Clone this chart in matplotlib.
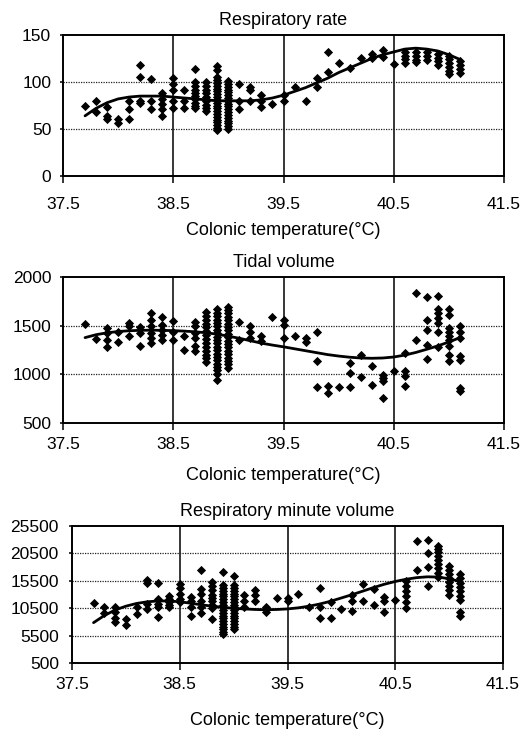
import matplotlib
matplotlib.use("Agg")
import matplotlib.pyplot as plt
import numpy as np

plt.rcParams['font.family'] = ['Liberation Sans', 'DejaVu Sans']

# ---------------- data ----------------
x_ticks = [37.5, 38.5, 39.5, 40.5, 41.5]
x_tick_labels = ["37.5", "38.5", "39.5", "40.5", "41.5"]
x_label = "Colonic temperature(°C)"

# Respiratory rate: temperature -> observed values
rr_title = "Respiratory rate"
rr_yticks = [0, 50, 100, 150]
rr_points = {
    37.7: [75],
    37.8: [80, 68],
    37.9: [73, 64, 61],
    38.0: [61, 56],
    38.1: [80, 71, 61],
    38.2: [118, 105, 80, 78],
    38.3: [103, 80, 71],
    38.4: [88, 82, 77, 71, 64],
    38.5: [104, 98, 91, 80, 72],
    38.6: [91, 80, 72],
    38.7: [114, 100, 96, 92, 88, 85, 82, 78, 75, 72],
    38.8: [100, 96, 92, 88, 84, 80, 76, 72, 69],
    38.9: [117, 113, 105, 102, 99, 96, 93, 90, 87, 84, 81, 78, 75, 72, 69, 66, 63, 60, 57, 54, 51, 49],
    39.0: [101, 98, 95, 92, 89, 86, 83, 80, 77, 74, 71, 68, 65, 62, 59, 56, 53, 50],
    39.1: [98, 80, 71],
    39.2: [95, 91, 80],
    39.3: [86, 80, 73],
    39.4: [77],
    39.5: [86, 80],
    39.6: [95],
    39.7: [80],
    39.8: [104, 95],
    39.9: [132, 111],
    40.0: [120],
    40.1: [115],
    40.2: [125],
    40.3: [130, 125],
    40.4: [134, 127],
    40.5: [119],
    40.6: [132, 128, 124, 120],
    40.7: [132, 128, 123, 121],
    40.8: [132, 128, 123],
    40.9: [130, 126, 122, 118],
    41.0: [128, 124, 120, 116, 112, 108],
    41.1: [122, 118, 114, 110],
}
rr_trend_t = [37.7, 37.8, 37.9, 38.0, 38.1, 38.2, 38.3, 38.4, 38.5, 38.6, 38.7, 38.8,
              38.9, 39.0, 39.1, 39.2, 39.3, 39.4, 39.5, 39.6, 39.7, 39.8, 39.9, 40.0,
              40.1, 40.2, 40.3, 40.4, 40.5, 40.6, 40.7, 40.8, 40.9, 41.0, 41.1]
rr_trend_v = [64, 72, 78, 82, 84, 85, 85, 85, 84, 83, 82, 81,
              80, 80, 80, 80, 81, 83, 86, 90, 94, 99, 104, 110,
              115, 120, 125, 129, 132, 135, 136, 135, 133, 129, 124]

# Tidal volume
tv_title = "Tidal volume"
tv_yticks = [500, 1000, 1500, 2000]
tv_points = {
    37.7: [1517],
    37.8: [1360],
    37.9: [1473, 1421, 1353, 1277],
    38.0: [1438, 1325],
    38.1: [1530, 1490, 1387],
    38.2: [1487, 1420, 1290],
    38.3: [1627, 1558, 1490, 1421, 1370, 1318],
    38.4: [1585, 1507, 1455, 1404, 1353],
    38.5: [1551, 1438, 1353],
    38.6: [1387, 1243],
    38.7: [1541, 1490, 1421, 1370, 1284, 1233],
    38.8: [1640, 1600, 1560, 1520, 1480, 1440, 1400, 1360, 1320, 1280, 1240, 1200, 1160, 1120],
    38.9: [1665, 1630, 1595, 1560, 1525, 1490, 1455, 1420, 1385, 1350, 1315, 1280, 1245,
           1210, 1175, 1140, 1105, 1070, 1045, 1000, 942],
    39.0: [1695, 1660, 1625, 1590, 1555, 1520, 1485, 1450, 1415, 1380, 1345, 1310, 1275,
           1240, 1205, 1170, 1135, 1100, 1065],
    39.1: [1541, 1353],
    39.2: [1490, 1438, 1370],
    39.3: [1387, 1336],
    39.4: [1592],
    39.5: [1558, 1507, 1370],
    39.6: [1394],
    39.7: [1370, 1325],
    39.8: [1428, 1130, 866],
    39.9: [880, 805],
    40.0: [866],
    40.1: [1113, 1010, 866],
    40.2: [1199, 969],
    40.3: [1086, 890],
    40.4: [993, 959, 925, 753],
    40.5: [1027],
    40.6: [1220, 1027, 976, 880],
    40.7: [1832, 1353],
    40.8: [1798, 1558, 1455, 1301, 1154],
    40.9: [1808, 1668, 1627, 1575, 1524, 1438, 1277],
    41.0: [1668, 1610, 1473, 1438, 1394, 1353, 1284, 1199, 1130],
    41.1: [1490, 1438, 1370, 1182, 1147, 856, 822],
}
tv_trend_t = rr_trend_t
tv_trend_v = [1375, 1405, 1425, 1438, 1446, 1450, 1452, 1450, 1447, 1442, 1435, 1425,
              1410, 1390, 1368, 1343, 1318, 1298, 1280, 1260, 1240, 1220, 1200, 1185,
              1173, 1165, 1162, 1165, 1175, 1195, 1222, 1255, 1290, 1330, 1375]

# Respiratory minute volume
mv_title = "Respiratory minute volume"
mv_yticks = [500, 5500, 10500, 15500, 20500, 25500]
mv_points = {
    37.7: [11400],
    37.8: [10800, 9700],
    37.9: [10800, 9760, 8710, 8100],
    38.0: [8530, 7480],
    38.1: [10685, 9450],
    38.2: [15600, 15200, 11300, 10380],
    38.3: [15100, 12230, 11300, 10685, 8960],
    38.4: [12700, 12200, 11700, 11200, 10700],
    38.5: [15000, 14260, 13150, 12230, 11600],
    38.6: [12540, 11920, 10685, 9140],
    38.7: [17470, 14080, 13150, 11920, 10685, 9570],
    38.8: [15300, 14500, 13800, 13000, 12400, 11800, 11200, 10600, 8500],
    38.9: [17160, 14700, 14200, 13700, 13200, 12700, 12200, 11700, 11200, 10700, 10200,
           9700, 9200, 8700, 8200, 7700, 7200, 6700, 6200, 5800],
    39.0: [16360, 14700, 14200, 13700, 13200, 12700, 12200, 11700, 11200, 10700, 10200,
           9700, 9200, 8700, 8200, 7700, 7200, 6700],
    39.1: [12850, 11920, 10685],
    39.2: [13770, 12850, 11920],
    39.3: [10685, 9760],
    39.4: [12400],
    39.5: [12400, 11920],
    39.6: [13030],
    39.7: [10685],
    39.8: [14260, 10685, 8830],
    39.9: [11600, 8710],
    40.0: [10380],
    40.1: [12850, 11920, 10070],
    40.2: [15000, 11920],
    40.3: [14080, 11180],
    40.4: [12540, 11920, 9760],
    40.5: [12040],
    40.6: [15500, 14570, 13640, 12720, 11600, 10500],
    40.7: [22700, 17470],
    40.8: [23000, 20560, 18090, 14500],
    40.9: [21800, 21300, 20700, 20000, 19300, 18600, 17800, 17000, 16200],
    41.0: [18200, 17470, 16700, 16000, 15300, 14600, 13800, 13000],
    41.1: [16850, 16000, 15200, 14400, 13600, 12800, 12000, 9760, 9140],
}
mv_trend_t = rr_trend_t
mv_trend_v = [7900, 9200, 10200, 10900, 11400, 11700, 11850, 11850, 11700, 11450, 11150, 10900,
              10700, 10500, 10400, 10300, 10250, 10300, 10400, 10600, 10900, 11300, 11800, 12400,
              13000, 13650, 14300, 14900, 15400, 15800, 16100, 16250, 16200, 15900, 15400]

# ---------------- layout ----------------
W, H = 529, 731
fig = plt.figure(figsize=(W / 100, H / 100), dpi=100)
fig.patch.set_facecolor('white')


def rect(l, r, t, b):
    return [l / W, 1 - b / H, (r - l) / W, (b - t) / H]


panels = [
    dict(title=rr_title, pts=rr_points, tt=rr_trend_t, tv=rr_trend_v, yt=rr_yticks,
         box=(63, 504, 35, 176), xpad=10.3, ypad=6.0, lab_y=235),
    dict(title=tv_title, pts=tv_points, tt=tv_trend_t, tv=tv_trend_v, yt=tv_yticks,
         box=(63, 504, 277, 422.5), xpad=5.8, ypad=6.0, lab_y=480),
    dict(title=mv_title, pts=mv_points, tt=mv_trend_t, tv=mv_trend_v, yt=mv_yticks,
         box=(72, 503, 526, 663.3), xpad=5.2, ypad=7.0, lab_y=725),
]

for p in panels:
    l, r, t, b = p['box']
    ax = fig.add_axes(rect(l, r, t, b))
    xs, ys = [], []
    for temp, vals in p['pts'].items():
        for v in vals:
            xs.append(temp)
            ys.append(v)
    ax.scatter(xs, ys, marker='D', s=22, color='black', linewidths=0, zorder=3)
    ax.plot(p['tt'], p['tv'], color='black', lw=2.0, zorder=4, solid_capstyle='round')

    ax.set_xlim(x_ticks[0], x_ticks[-1])
    ax.set_ylim(p['yt'][0], p['yt'][-1])
    ax.set_xticks(x_ticks)
    ax.set_xticklabels(x_tick_labels)
    ax.set_yticks(p['yt'])
    ax.set_yticklabels([str(v) for v in p['yt']])

    for v in x_ticks[1:-1]:
        ax.axvline(v, color='black', lw=1.1, zorder=1)
    for v in p['yt'][1:-1]:
        ax.axhline(v, color='#222222', lw=0.9, ls=(0, (1, 1)), zorder=1)

    for s in ax.spines.values():
        s.set_linewidth(1.4)
        s.set_color('black')

    ax.tick_params(axis='x', direction='out', length=4.7, width=1.1,
                   pad=p['xpad'], labelsize=12.5, colors='black')
    ax.tick_params(axis='y', direction='out', length=2.5, width=1.1,
                   pad=p['ypad'], labelsize=12.5, colors='black')

    ax.set_title(p['title'], fontsize=13, pad=7.2, color='black')
    fig.text((l + r) / 2 / W, 1 - p['lab_y'] / H, x_label, ha='center',
             va='baseline', fontsize=13, color='black')

fig.savefig("out.png", dpi=100, facecolor='white')
